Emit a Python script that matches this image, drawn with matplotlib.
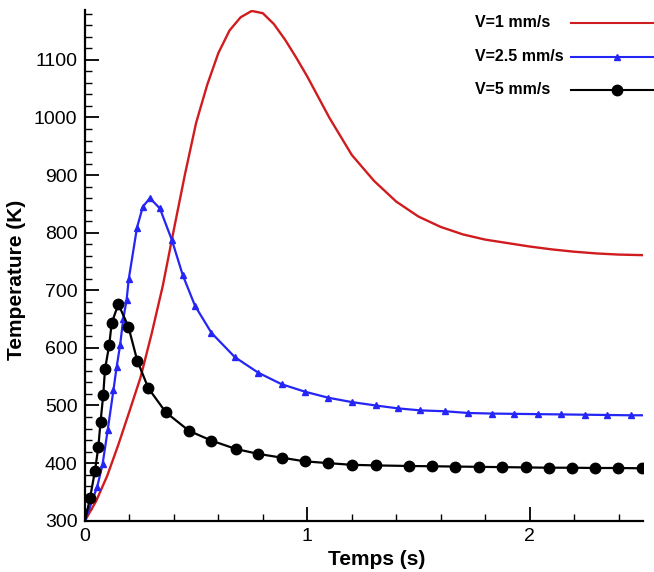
import matplotlib
matplotlib.use("Agg")
import matplotlib.pyplot as plt
from matplotlib.lines import Line2D
from matplotlib.ticker import MultipleLocator

plt.rcParams['font.family'] = ['Liberation Sans', 'DejaVu Sans']

# V = 1 mm/s (red, no markers)
t_v1 = [0, 0.05, 0.10, 0.15, 0.20, 0.25, 0.30, 0.35, 0.40, 0.45, 0.50, 0.55,
        0.60, 0.65, 0.70, 0.75, 0.80, 0.85, 0.90, 0.95, 1.00, 1.10, 1.20, 1.30,
        1.40, 1.50, 1.60, 1.70, 1.80, 1.90, 2.00, 2.10, 2.20, 2.30, 2.40, 2.51]
T_v1 = [300, 334, 378, 432, 490, 549, 625, 708, 806, 902, 991, 1057,
        1112, 1151, 1174, 1185, 1181, 1162, 1135, 1104, 1071, 999, 935, 890,
        854, 828, 810, 797, 788, 782, 776, 771, 767, 764, 762, 761]

# V = 2.5 mm/s (blue, triangles)
t_v25 = [0, 0.055, 0.079, 0.102, 0.128, 0.142, 0.158, 0.172, 0.187, 0.197,
         0.234, 0.260, 0.292, 0.337, 0.391, 0.440, 0.495, 0.569, 0.674, 0.779,
         0.884, 0.989, 1.094, 1.199, 1.308, 1.408, 1.509, 1.618, 1.723, 1.831,
         1.929, 2.037, 2.142, 2.247, 2.349, 2.454, 2.51]
T_v25 = [300, 359, 398, 457, 527, 566, 605, 650, 683, 720,
         809, 845, 860, 842, 787, 726, 673, 626, 584, 557,
         537, 524, 513.5, 506, 500, 495, 491.5, 490, 487, 486,
         485.5, 485, 484.5, 484, 483.5, 483, 483]

# V = 5 mm/s (black, circles)
t_v5 = [0, 0.0225, 0.045, 0.060, 0.070, 0.082, 0.090, 0.109, 0.120, 0.150,
        0.195, 0.235, 0.285, 0.364, 0.468, 0.569, 0.679, 0.779, 0.884, 0.989,
        1.094, 1.199, 1.308, 1.456, 1.561, 1.666, 1.771, 1.876, 1.982, 2.085,
        2.192, 2.295, 2.397, 2.505]
T_v5 = [300, 339, 387, 428, 472, 518, 563, 605, 643, 676,
        637, 578, 530, 488, 456, 439, 424.5, 416, 409.5, 403,
        400, 397, 396, 395, 394.5, 394, 393.5, 393, 392.5, 392,
        392, 391.5, 391.5, 391]

labels = ['V=1 mm/s', 'V=2.5 mm/s', 'V=5 mm/s']
colors = ['#d01c1f', '#2525f5', '#000000']

W, H = 654, 572
fig = plt.figure(figsize=(W / 100, H / 100), dpi=100)
ax = fig.add_axes([85 / W, 51.3 / H, 558 / W, 510.7 / H])

ax.plot(t_v1, T_v1, color=colors[0], lw=1.7)
ax.plot(t_v25, T_v25, color=colors[1], lw=1.6, marker='^', ms=4.5,
        markevery=slice(0, len(t_v25) - 1))
ax.plot(t_v5, T_v5, color=colors[2], lw=1.6, marker='o', ms=7.5,
        markevery=slice(1, None))

ax.set_xlim(0, 2.51)
ax.set_ylim(300, 1186.6)
ax.xaxis.set_major_locator(MultipleLocator(1))
ax.xaxis.set_minor_locator(MultipleLocator(0.2))
ax.yaxis.set_major_locator(MultipleLocator(100))
ax.yaxis.set_minor_locator(MultipleLocator(20))

for s in ['top', 'right']:
    ax.spines[s].set_visible(False)
for s in ['left', 'bottom']:
    ax.spines[s].set_linewidth(1.6)

ax.tick_params(which='major', direction='in', length=10, width=1.3, labelsize=14)
ax.tick_params(which='minor', direction='in', length=5, width=1.0)
ax.tick_params(axis='y', which='major', pad=5.5)
ax.tick_params(axis='x', which='major', pad=5)

ax.set_xlabel('Temps (s)', fontsize=15, fontweight='bold')
ax.xaxis.set_label_coords((377 - 85) / 558, -0.057)
ax.set_ylabel('Temperature (K)', fontsize=15, fontweight='bold')
ax.yaxis.set_label_coords(-0.106, 0.471)

# legend drawn by hand: text on the left, sample line running off the right edge
leg_y = [22.5, 56.7, 90.0]
markers = [None, '^', 'o']
msizes = [0, 4.5, 7.5]
for lab, c, py, m, ms in zip(labels, colors, leg_y, markers, msizes):
    fy = 1 - py / H
    fig.text(475 / W, fy, lab, ha='left', va='center', fontsize=11.5, fontweight='bold')
    fig.add_artist(Line2D([571 / W, 1.0], [fy, fy], color=c, lw=1.5))
    if m:
        fig.add_artist(Line2D([616.7 / W], [fy], color=c, marker=m, ms=ms, lw=0))

fig.savefig('out.png', dpi=100)
